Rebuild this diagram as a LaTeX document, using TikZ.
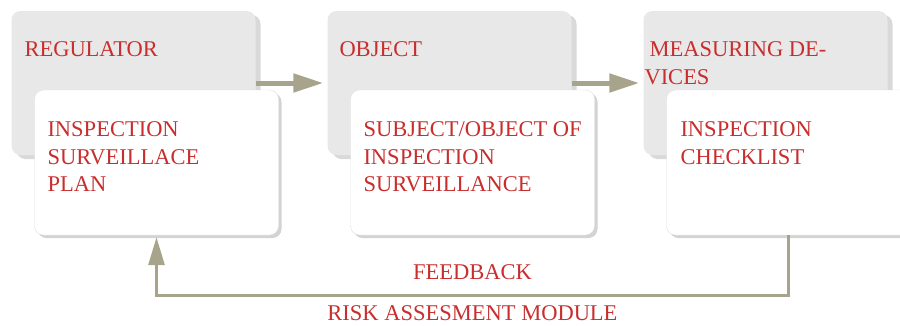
\documentclass[tikz,border=0pt]{standalone}
\usepackage{fontspec}
\setmainfont{Liberation Serif}
\usetikzlibrary{positioning,shadows,arrows.meta}
\definecolor{labelred}{RGB}{200,46,46}
\definecolor{flowkhaki}{RGB}{168,164,140}
\definecolor{backgray}{RGB}{232,232,232}
\def\boxsep{316pt}

\begin{document}
\begin{tikzpicture}[x=1pt,y=-1pt,node distance=\boxsep]
	\tikzstyle{box}=[rectangle,rounded corners=9pt,minimum width=244pt,minimum height=144pt,inner sep=0pt]
	\tikzstyle{back box}=[box,fill=backgray,drop shadow={shadow xshift=5pt,shadow yshift=-4pt,opacity=0.3}]
	\tikzstyle{front box}=[box,fill=white,draw=black!12,minimum height=145pt,drop shadow={shadow xshift=3pt,shadow yshift=-3pt,opacity=0.35}]
	\tikzstyle{box text}=[text=labelred,font=\fontsize{22.5}{27.5}\selectfont,align=left,inner sep=0pt,anchor=north west]
	\tikzstyle{caption}=[text=labelred,font=\fontsize{22.5}{27.5}\selectfont,inner sep=0pt]
	\tikzstyle{flow}=[draw=flowkhaki,line width=5pt,-{Triangle[length=30pt,width=18pt]},shorten >=4pt]
	\tikzstyle{feedback}=[draw=flowkhaki,line width=3pt,-{Triangle[length=28pt,width=16pt]},shorten >=2pt]

	\useasboundingbox (0,0) rectangle (900,325);

	% Draw the back boxes
	\node[back box] (reg) at (133.5,83) {};
	\node[back box, right of=reg] (obj) {};
	\node[back box, right of=obj] (meas) {};
	\node[box text] (reg-t) at ([shift={(13,31)}]reg.north west) {REGULATOR};
	\node[box text] (obj-t) at ([shift={(12,31)}]obj.north west) {OBJECT};
	\node[box text] (meas-t) at ([shift={(1,31)}]meas.north west) {\hspace{5pt}MEASURING DE-\\VICES};

	% Connect the back boxes
	\draw[flow] (reg) -- (obj);
	\draw[flow] (obj) -- (meas);

	% Draw the front boxes
	\node[front box] (plan) at ([shift={(23,79.5)}]reg.center) {};
	\node[front box] (subj) at ([shift={(23,79.5)}]obj.center) {};
	\node[front box] (check) at ([shift={(23,79.5)}]meas.center) {};
	\node[box text] (plan-t) at ([shift={(13,32)}]plan.north west) {INSPECTION\\SURVEILLACE\\PLAN};
	\node[box text] (subj-t) at ([shift={(13,32)}]subj.north west) {SUBJECT/OBJECT OF\\INSPECTION\\SURVEILLANCE};
	\node[box text] (check-t) at ([shift={(14,32)}]check.north west) {INSPECTION\\CHECKLIST};

	% Feedback loop
	\draw[feedback] (check.south) -- ++(0,60) -| node[caption,pos=0.25,above=14pt] (fb) {FEEDBACK}
		node[caption,pos=0.25,below=9pt] (ram) {RISK ASSESMENT MODULE} (plan.south);
\end{tikzpicture}
\end{document}
